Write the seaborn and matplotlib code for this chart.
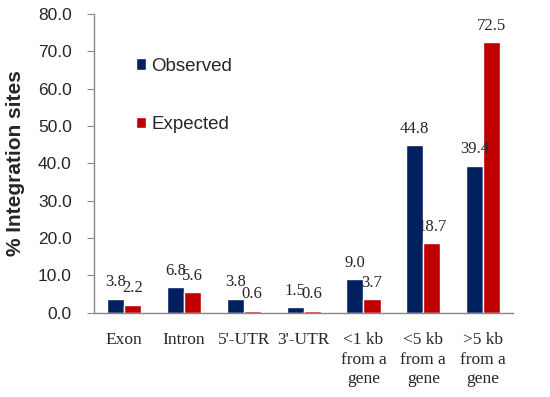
import numpy as np
import pandas as pd
import matplotlib
matplotlib.use("Agg")
import matplotlib.pyplot as plt
import seaborn as sb
from matplotlib.ticker import FixedLocator
from matplotlib.transforms import ScaledTranslation

categories = ["Exon", "Intron", "5'-UTR", "3'-UTR",
              "<1 kb\nfrom a\ngene", "<5 kb\nfrom a\ngene", ">5 kb\nfrom a\ngene"]
observed = [3.8, 6.8, 3.8, 1.5, 9.0, 44.8, 39.4]
expected = [2.2, 5.6, 0.6, 0.6, 3.7, 18.7, 72.5]

df = pd.DataFrame({
    "region": categories * 2,
    "value": observed + expected,
    "series": ["Observed"] * len(categories) + ["Expected"] * len(categories),
})

sb.set_style("white")
plt.rcParams["font.family"] = ["Liberation Sans", "DejaVu Sans"]

fig = plt.figure(figsize=(5.5, 3.97), dpi=100)
ax = fig.add_axes([0.171, 0.212, 0.762, 0.753])

sb.barplot(data=df, x="region", y="value", hue="series", order=categories,
           hue_order=["Observed", "Expected"],
           palette={"Observed": "#002060", "Expected": "#C00000"},
           width=0.57, saturation=1, ax=ax, errorbar=None)

# expected labels sit a bit to the right, like the original
shifts = [-1, 5]
for cont, dx in zip(ax.containers, shifts):
    texts = ax.bar_label(cont, fmt="%.1f", padding=6, fontsize=12,
                         family="Liberation Serif")
    for t in texts:
        t.set_transform(t.get_transform() + ScaledTranslation(dx / 100, 0, fig.dpi_scale_trans))

ax.set_ylim(0, 80)
ax.set_xlim(-0.5, 6.5)
ax.set_yticks(np.arange(0, 81, 10))
ax.set_yticklabels([f"{v:.1f}" for v in np.arange(0, 81, 10)], fontsize=12.5)
ax.set_xticklabels(categories, family="Liberation Serif", fontsize=12.5,
                   linespacing=1.3)
ax.xaxis.set_minor_locator(FixedLocator(np.arange(-0.5, 7, 1)))
ax.tick_params(axis="x", which="major", length=0, pad=14)
ax.tick_params(axis="x", which="minor", length=5, color="#888888", direction="out")
ax.tick_params(axis="y", length=5, color="#888888", direction="out", left=True, pad=11)

ax.set_xlabel("")
ax.set_ylabel("% Integration sites", fontsize=15, fontweight="bold")
ax.yaxis.set_label_coords(-0.165, 0.5)

for s in ["top", "right"]:
    ax.spines[s].set_visible(False)
for s in ["left", "bottom"]:
    ax.spines[s].set_color("#888888")
    ax.spines[s].set_linewidth(1)

leg = ax.legend(loc="upper left", bbox_to_anchor=(0.059, 0.91), frameon=False,
                fontsize=13.5, labelspacing=2.2, handlelength=0.55,
                handleheight=0.55, handletextpad=0.3)

fig.savefig("out.png", dpi=100)
